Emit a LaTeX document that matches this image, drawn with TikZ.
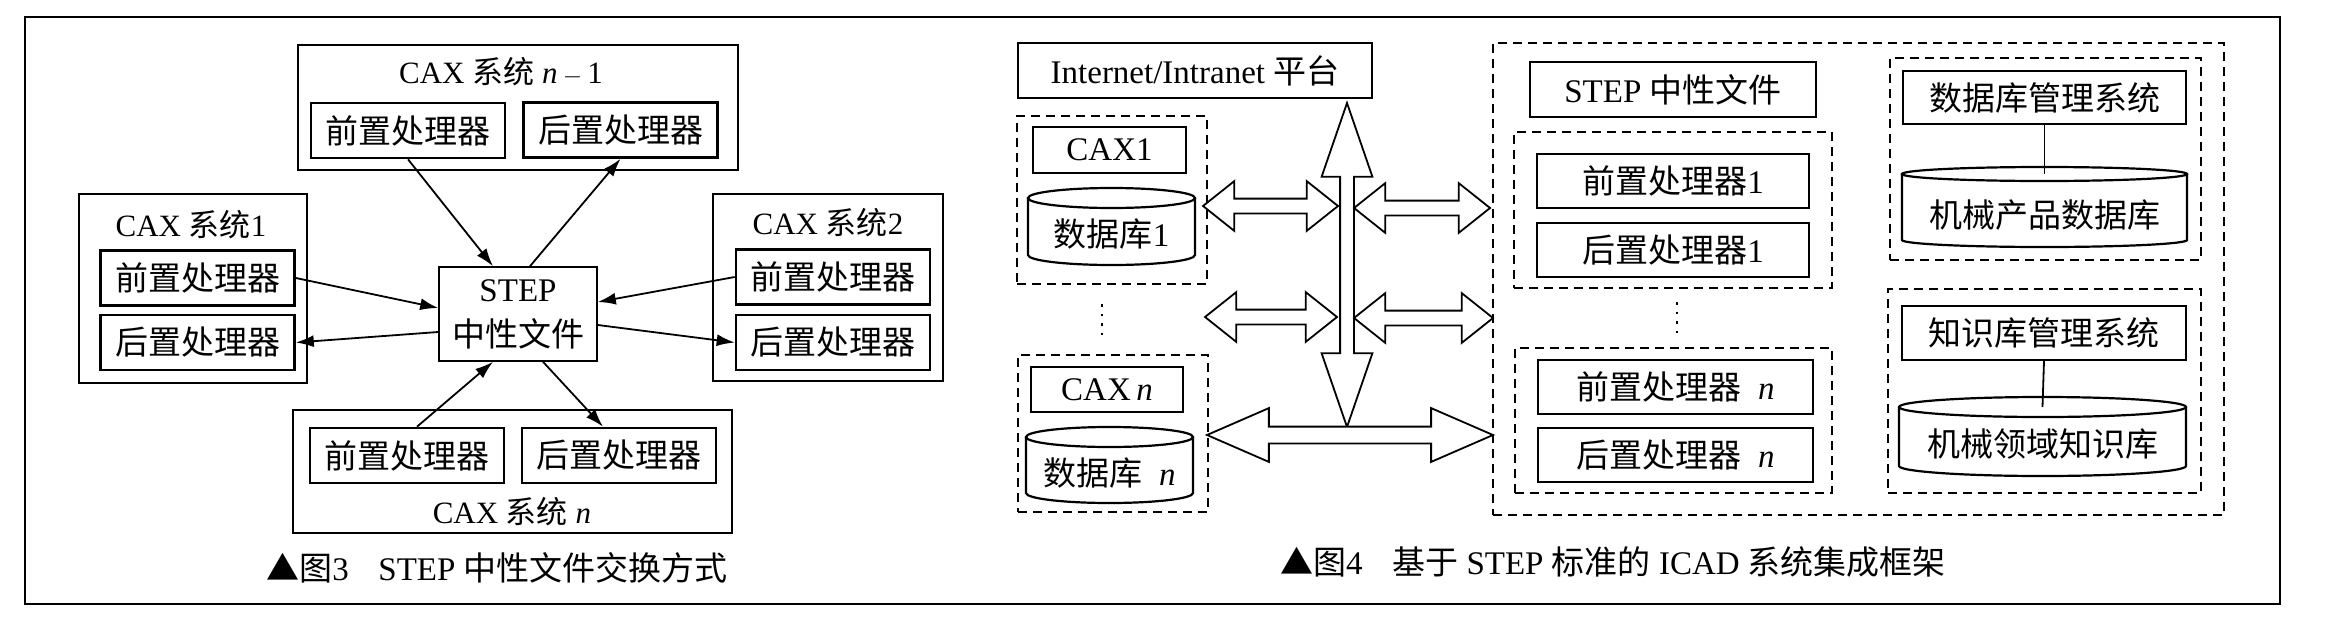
\documentclass[tikz,border=0pt]{standalone}
\usepackage{fontspec}
\setmainfont{Liberation Serif}
\newfontfamily\cjk{Noto Sans CJK SC}
\usetikzlibrary{arrows.meta, positioning, shapes.arrows}

% drum: name, x, x radius, y radius, top y, bottom y, text
\newcommand{\drum}[7]{%
  \draw [cyl] (#2,#5) ellipse [x radius=#3, y radius=#4];
  \draw [cyl] (#2-#3,#5) -- (#2-#3,#6) arc [start angle=180, end angle=0, x radius=#3, y radius=#4] -- (#2+#3,#5);
  \coordinate (#1top) at (#2,#5);
  \node (#1) [lbl] at (#2,{(#5+#6)/2+8}) {#7};
}

\begin{document}
\begin{tikzpicture} [x=1pt, y=-1pt,
    sysbox/.style = {draw, line width=1.6pt, inner sep=0pt},
    unit/.style = {draw, line width=2.6pt, inner sep=0pt, minimum width=194pt, minimum height=55pt, font={\fontsize{33}{36}\selectfont\cjk}},
    rbox/.style = {draw, line width=2.2pt, inner sep=0pt, minimum height=54pt, font={\fontsize{33}{36}\selectfont}},
    group/.style = {draw, dash pattern=on 9pt off 6pt, line width=1.8pt, inner sep=0pt},
    title/.style = {inner sep=0pt, font={\fontsize{31}{34}\selectfont}},
    lbl/.style = {inner sep=0pt, font={\fontsize{33}{36}\selectfont}},
    caption/.style = {inner sep=0pt, font={\fontsize{33}{36}\selectfont}},
    cyl/.style = {line width=2.2pt},
    fat/.style = {double arrow, draw, line width=1.8pt, fill=white, inner xsep=0pt, inner ysep=6.5pt,
                  double arrow head extend=17.5pt, double arrow tip angle=77},
    vdots/.style = {line width=2.6pt, dash pattern=on 2.6pt off 7pt}]
    \useasboundingbox (0,0) rectangle (2338,632);
    \draw [line width=1.8pt] (25,17) rectangle (2280,604);

    % STEP neutral file exchange
    \node (sysN1) [sysbox, minimum width=440pt, minimum height=125pt] at (518,107.5) {};
    \node (sys1) [sysbox, minimum width=228pt, minimum height=189pt] at (193,288.5) {};
    \node (sys2) [sysbox, minimum width=230pt, minimum height=187pt] at (828,287.5) {};
    \node (sysN) [sysbox, minimum width=439pt, minimum height=123pt] at (512.5,471.5) {};
    \node (tN1) [title] at (501,72) {CAX {\cjk 系统} \textit{n}\,$-$\,1};
    \node (t1) [title] at (191,225) {CAX {\cjk 系统}1};
    \node (t2) [title] at (828,223) {CAX {\cjk 系统}2};
    \node (tN) [title] at (512,512) {CAX {\cjk 系统} \textit{n}};
    \node (preN1) [unit] at (408,130.5) {前置处理器};
    \node (postN1) [unit] at (620.5,130) {后置处理器};
    \node (pre1) [unit] at (197.5,278) {前置处理器};
    \node (post1) [unit] at (197.5,342.5) {后置处理器};
    \node (pre2) [unit] at (833,277) {前置处理器};
    \node (post2) [unit] at (833,342.5) {后置处理器};
    \node (preN) [unit] at (407,455.5) {前置处理器};
    \node (postN) [unit] at (619,455.5) {后置处理器};
    \node (step) [sysbox, minimum width=158pt, minimum height=94pt, align=center,
                  font={\fontsize{33}{45}\selectfont}] at (518,314) {STEP\\{\cjk 中性文件}};
    \path [-{Latex[length=18pt, width=12pt]}, line width=1.8pt]
    (preN1.south) edge ([xshift=-25pt]step.north)
    ([xshift=12pt]step.north) edge (postN1.south)
    (pre1.east) edge ([yshift=6pt]step.west)
    ([yshift=-18pt]step.west) edge (post1.east)
    (pre2.west) edge ([yshift=12pt]step.east)
    ([yshift=-11pt]step.east) edge (post2.west)
    ([xshift=10pt]preN.north) edge ([xshift=-25pt]step.south)
    ([xshift=25pt]step.south) edge ([xshift=-16pt]postN.north);
    \node (cap3) [caption] at (497,568) {{\cjk ▲图}3\hspace{0.9em}STEP {\cjk 中性文件交换方式}};

    % ICAD integration framework
    \node (net) [rbox, minimum width=354pt, minimum height=55pt] at (1195,70.5) {Internet/Intranet {\cjk 平台}};
    \node (cax1grp) [group, minimum width=190pt, minimum height=168pt] at (1112,200) {};
    \node (cax1) [rbox, minimum width=153pt, minimum height=46pt] at (1109.5,150) {CAX1};
    \drum{db1}{1111.5}{83.5}{10}{198}{255}{{\cjk 数据库}1}
    \draw [vdots] (1102,304) -- (1102,336);
    \node (caxNgrp) [group, minimum width=190pt, minimum height=157pt] at (1113,433.5) {};
    \node (caxN) [rbox, minimum width=152pt, minimum height=45pt] at (1107,389.5) {CAX\,\textit{n}};
    \drum{dbN}{1109.5}{83.5}{10}{437}{493}{{\cjk 数据库}\enspace\textit{n}}

    \node (bus) [fat, rotate=90, minimum height=324pt, inner ysep=6pt,
                 double arrow head extend=18.5pt, double arrow tip angle=38] at (1347,265) {};
    \node (arrA1) [fat, minimum height=135pt] at (1270.5,206) {};
    \node (arrA2) [fat, minimum height=136pt] at (1422,208) {};
    \node (arrB1) [fat, minimum height=132pt] at (1271,317) {};
    \node (arrB2) [fat, minimum height=139pt] at (1423.5,318) {};
    \node (arrC) [fat, minimum height=286pt, inner ysep=7.5pt,
                  double arrow head extend=18.5pt, double arrow tip angle=47] at (1350,435) {};

    \node (core) [group, minimum width=731pt, minimum height=472pt] at (1858.5,279) {};
    \node (stepf) [rbox, minimum width=286pt, minimum height=55pt] at (1673,89.5) {STEP {\cjk 中性文件}};
    \node (grp1) [group, minimum width=318pt, minimum height=156pt] at (1673,210) {};
    \node (pre1r) [rbox, minimum width=272pt] at (1673,181) {{\cjk 前置处理器}1};
    \node (post1r) [rbox, minimum width=272pt] at (1673,250) {{\cjk 后置处理器}1};
    \draw [vdots] (1677,302) -- (1677,334);
    \node (grpn) [group, minimum width=317pt, minimum height=145pt] at (1673.5,420.5) {};
    \node (preNr) [rbox, minimum width=275pt] at (1675.5,387) {{\cjk 前置处理器}\enspace\textit{n}};
    \node (postNr) [rbox, minimum width=275pt] at (1675.5,455) {{\cjk 后置处理器}\enspace\textit{n}};

    \node (dbgrp) [group, minimum width=311pt, minimum height=202pt] at (2045.5,159) {};
    \node (dbms) [rbox, minimum width=283pt, minimum height=53pt] at (2044.5,97.5) {{\cjk 数据库管理系统}};
    \drum{pdb}{2044.5}{142.5}{7}{174}{240}{{\cjk 机械产品数据库}}
    \node (kbgrp) [group, minimum width=313pt, minimum height=204pt] at (2044.5,391) {};
    \node (kbms) [rbox, minimum width=284pt] at (2044,333) {{\cjk 知识库管理系统}};
    \drum{kdb}{2042.5}{143.5}{10}{407}{466}{{\cjk 机械领域知识库}}
    \draw [line width=1.8pt] (dbms.south) -- (pdbtop);
    \draw [line width=1.8pt] (kbms.south) -- (kdbtop);
    \node (cap4) [caption] at (1613,562) {{\cjk ▲图}4\hspace{0.9em}{\cjk 基于} STEP {\cjk 标准的} ICAD {\cjk 系统集成框架}};
\end{tikzpicture}
\end{document}
